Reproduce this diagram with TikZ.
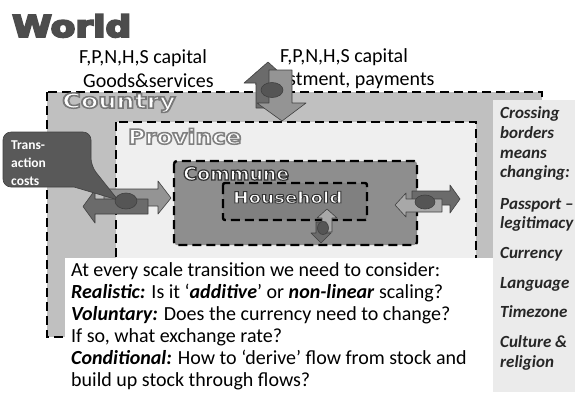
\documentclass[tikz,border=0pt]{standalone}
\usepackage{fontspec}
\setmainfont{Carlito}
\newfontfamily\headfont{DejaVu Sans}

% stroked glyph outline: #1 stroke colour (rgb), #2 stroke width, #3 text
\newcommand{\rimtext}[3]{\special{pdf:literal direct #1 RG #2 w 2 Tr}#3\special{pdf:literal direct 0 Tr}}

\definecolor{worldgray}{HTML}{4D4D4D}
\definecolor{countrygray}{HTML}{C0C0C0}
\definecolor{provincegray}{HTML}{EFEFEF}
\definecolor{communegray}{HTML}{8E8E8E}
\definecolor{householdgray}{HTML}{808080}
\definecolor{panelgray}{HTML}{EBEBEB}
\definecolor{darkflow}{HTML}{6B6B6B}
\definecolor{lightflow}{HTML}{949494}
\definecolor{paleflow}{HTML}{A8A8A8}
\definecolor{blobgray}{HTML}{555555}
\definecolor{edgegray}{HTML}{404040}
\definecolor{calloutgray}{HTML}{595959}

\tikzset{
  levelbox/.style={line width=2.4pt, dash pattern=on 9pt off 5pt},
  flowdark/.style={fill=darkflow, draw=edgegray, line width=0.6pt, line join=round},
  flowlight/.style={fill=lightflow, draw=edgegray, line width=0.6pt, line join=round},
  flowpale/.style={fill=paleflow, draw=edgegray, line width=0.6pt, line join=round},
  blob/.style={fill=blobgray, draw=edgegray, line width=0.6pt},
  bodyline/.style={anchor=base west, inner sep=0pt, font=\fontsize{20}{22}\selectfont},
  panelline/.style={anchor=base west, inner sep=0pt, text=black!85, font=\fontsize{17}{20}\selectfont\bfseries\itshape},
  levellabel/.style={anchor=base west, inner sep=0pt},
  callouttext/.style={anchor=base west, inner sep=0pt, text=white, font=\fontsize{13.5}{15}\selectfont\bfseries},
}

\begin{document}
\begin{tikzpicture}[x=1pt,y=1pt,yscale=-1,xscale=1]
    \useasboundingbox (0,0) rectangle (575,392);

    %Shape: Rectangle [country]
    \draw [levelbox, fill=countrygray] (47,92) rectangle (542,337);
    %Shape: Rectangle [province]
    \draw [levelbox, fill=provincegray] (116,122) rectangle (476,300);
    %Shape: Rectangle [commune]
    \draw [levelbox, fill=communegray, rounded corners=3] (174,161) rectangle (417,245);
    %Shape: Rectangle [household]
    \draw [levelbox, fill=householdgray, rounded corners=2] (223,183) rectangle (367,220);

    %Shape: Rectangle [border panel]
    \fill [panelgray] (493,100) rectangle (575,392);
    %Shape: Rectangle [question box]
    \fill [white] (65,258) rectangle (493,392);

    % Text Node
    \draw (12,37) node (world) [levellabel, text=worldgray, font=\headfont\fontsize{30}{30}\selectfont\bfseries] {\scalebox{1.2}[1]{\rimtext{0.3 0.3 0.3}{1.8}{World}}};
    % Text Node
    \draw (62,108) node (country) [levellabel, text=white, font=\headfont\fontsize{20.5}{20.5}\selectfont\bfseries] {\scalebox{1.24}[1]{\rimtext{0.47 0.47 0.47}{1.5}{Country}}};
    % Text Node
    \draw (128,144) node (province) [levellabel, text=white, font=\headfont\fontsize{20.5}{20.5}\selectfont\bfseries] {\scalebox{1.13}[1]{\rimtext{0.5 0.5 0.5}{1.5}{Province}}};
    % Text Node
    \draw (183,180) node (commune) [levellabel, text=white, font=\headfont\fontsize{18}{18}\selectfont\bfseries] {\scalebox{1.05}[1]{\rimtext{0.2 0.2 0.2}{1.2}{Commune}}};
    % Text Node
    \draw (233,203) node (household) [levellabel, text=white, font=\headfont\fontsize{15.5}{15.5}\selectfont\bfseries] {\scalebox{1.18}[1]{\rimtext{0.2 0.2 0.2}{0.9}{Household}}};

    % Text Node
    \draw (79,63) node (capleft) [bodyline] {F,P,N,H,S capital};
    % Text Node
    \draw (83,87) node (goods) [bodyline] {Goods\&services};
    % Text Node
    \draw (280,62) node (capright) [bodyline] {F,P,N,H,S capital};
    % Text Node
    \draw (254,85) node (invest) [bodyline] {Investment, payments};

    %Shape: Up Arrow [world link]
    \draw [flowdark] (256,108) -- (256,83) -- (244,83) -- (268,62) -- (291,83) -- (276,83) -- (276,108) -- cycle;
    %Shape: Down Arrow [world link]
    \draw [flowlight] (269,70) -- (292,70) -- (292,103) -- (306,103) -- (282,121) -- (257,103) -- (269,103) -- cycle;
    %Shape: Ellipse [world link]
    \draw [blob] (272,90) ellipse (11 and 7.5);

    %Shape: Right Arrow [country link]
    \draw [flowlight] (104,189) -- (158,189) -- (158,181) -- (171,198) -- (158,214) -- (158,206) -- (104,206) -- cycle;
    %Shape: Left Arrow [country link]
    \draw [flowdark] (148,199) -- (95,199) -- (95,190) -- (83,206.5) -- (95,223) -- (95,214) -- (148,214) -- cycle;

    %Shape: Callout [transaction costs]
    \draw [fill=calloutgray, draw=edgegray, line width=0.6pt, rounded corners=8] (3,132) -- (91,132) -- (91,166) [sharp corners] -- (118,200) -- (74,187) [rounded corners=8] -- (3,187) -- cycle;
    % Text Node
    \draw (11,149) node (trans1) [callouttext] {Trans-};
    % Text Node
    \draw (11,167) node (trans2) [callouttext] {action};
    % Text Node
    \draw (11,185) node (trans3) [callouttext] {costs};
    %Shape: Ellipse [country link]
    \draw [blob] (126,201) ellipse (11 and 8);

    %Shape: Right Arrow [province link]
    \draw [flowdark] (412,191) -- (450,191) -- (450,185) -- (460,199) -- (450,213) -- (450,205) -- (412,205) -- cycle;
    %Shape: Left Arrow [province link]
    \draw [flowpale] (442,199) -- (406,199) -- (406,193) -- (395,205) -- (406,217) -- (406,212) -- (442,212) -- cycle;
    %Shape: Ellipse [province link]
    \draw [blob] (425,202) ellipse (10 and 7);

    %Shape: Up Arrow [household link]
    \draw [flowpale] (322,232) -- (322,218) -- (317,218) -- (327,209) -- (337,218) -- (332,218) -- (332,232) -- cycle;
    %Shape: Down Arrow [household link]
    \draw [flowdark] (316,222) -- (326,222) -- (326,233) -- (331,233) -- (321,243) -- (311,233) -- (316,233) -- cycle;
    %Shape: Ellipse [household link]
    \draw [blob] (323,228) ellipse (5.5 and 6.5);

    % Text Node
    \draw (71,276) node (ask1) [bodyline] {At every scale transition we need to consider:};
    % Text Node
    \draw (71,298) node (ask2) [bodyline] {\textbf{\textit{Realistic:}} Is it ‘\textbf{\textit{additive}}’ or \textbf{\textit{non-linear}} scaling?};
    % Text Node
    \draw (71,320) node (ask3) [bodyline] {\textbf{\textit{Voluntary:}} Does the currency need to change?};
    % Text Node
    \draw (71,342) node (ask4) [bodyline] {If so, what exchange rate?};
    % Text Node
    \draw (71,364) node (ask5) [bodyline] {\textbf{\textit{Conditional:}} How to ‘derive’ flow from stock and};
    % Text Node
    \draw (71,386) node (ask6) [bodyline] {build up stock through flows?};

    % Text Node
    \draw (500,118) node (cross1) [panelline] {Crossing};
    % Text Node
    \draw (500,138) node (cross2) [panelline] {borders};
    % Text Node
    \draw (500,158) node (cross3) [panelline] {means};
    % Text Node
    \draw (500,177) node (cross4) [panelline] {changing:};
    % Text Node
    \draw (500,209) node (passport1) [panelline] {Passport –};
    % Text Node
    \draw (500,228) node (passport2) [panelline] {legitimacy};
    % Text Node
    \draw (500,258) node (currency) [panelline] {Currency};
    % Text Node
    \draw (500,288) node (language) [panelline] {Language};
    % Text Node
    \draw (500,317) node (timezone) [panelline] {Timezone};
    % Text Node
    \draw (500,347) node (culture1) [panelline] {Culture \&};
    % Text Node
    \draw (500,367) node (culture2) [panelline] {religion};
\end{tikzpicture}
\end{document}
